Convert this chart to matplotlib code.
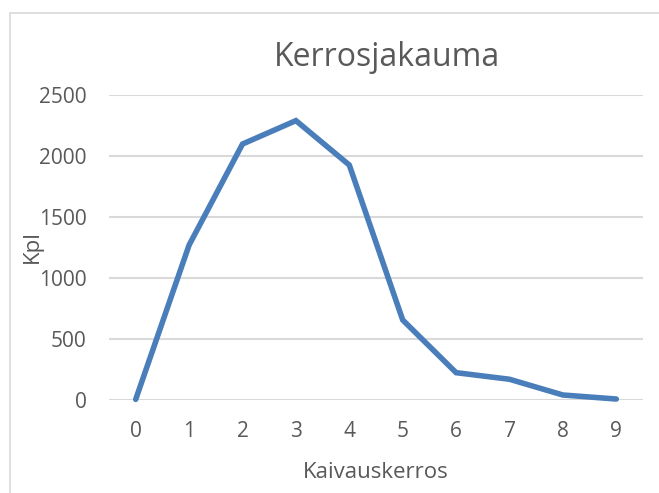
import matplotlib.pyplot as plt
from matplotlib.patches import Rectangle

# data
layers = [0, 1, 2, 3, 4, 5, 6, 7, 8, 9]
counts = [5, 1270, 2098, 2290, 1926, 656, 224, 170, 41, 8]
y_ticks = [0, 500, 1000, 1500, 2000, 2500]

TEXT_COLOR = '#595959'
GRID_COLOR = '#d9d9d9'
LINE_COLOR = '#4a7ebb'

W, H = 659, 493

plt.rcParams['font.family'] = ['Open Sans', 'DejaVu Sans']

fig = plt.figure(figsize=(W / 100, H / 100), dpi=100)
ax = fig.add_axes([109 / W, 1 - 400 / H, 534 / W, 305 / H])

ax.plot(layers, counts, color=LINE_COLOR, linewidth=4,
        solid_joinstyle='miter', solid_capstyle='round', clip_on=False, zorder=3)

ax.set_xlim(-0.5, 9.5)
ax.set_ylim(0, 2500)
ax.set_xticks(layers)
ax.set_yticks(y_ticks)
ax.tick_params(length=0, labelsize=15, colors=TEXT_COLOR)
ax.tick_params(axis='x', pad=15)
ax.tick_params(axis='y', pad=16)
ax.grid(axis='y', color=GRID_COLOR, linewidth=1.5)
ax.set_axisbelow(True)
for side in ax.spines:
  ax.spines[side].set_visible(False)

fig.text(376 / W, 1 - 478 / H, 'Kaivauskerros', fontsize=16, color=TEXT_COLOR,
         ha='center', va='baseline')
fig.text(32 / W, 1 - 247 / H, 'Kpl', fontsize=16, color=TEXT_COLOR,
         ha='center', va='center', rotation=90)
fig.text(387 / W, 1 - 66 / H, 'Kerrosjakauma', fontsize=23, color=TEXT_COLOR,
         ha='center', va='baseline')

# chart frame like the spreadsheet chart area
fig.patches.append(Rectangle((10 / W, -0.1), 1.2, 1 - 13 / H + 0.1,
                             transform=fig.transFigure, fill=False,
                             edgecolor='#d9d9d9', linewidth=1.2))

fig.savefig('out.png', dpi=100)
